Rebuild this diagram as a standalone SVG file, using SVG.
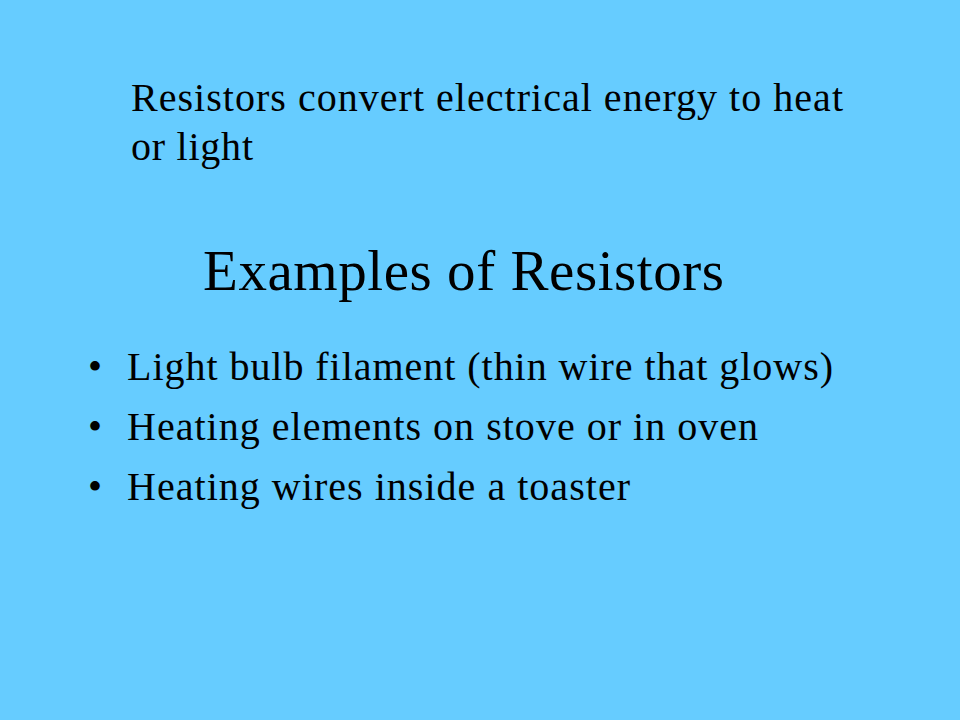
<svg xmlns="http://www.w3.org/2000/svg" width="960" height="720" viewBox="0 0 960 720">
<style>
text{font-family:"Liberation Serif","Times New Roman",serif;fill:#000}
.b{font-size:40px}
.t{font-size:57px}
</style>
<rect width="960" height="720" fill="#66CCFF"/>
<g id="intro">
<text class="b" x="131" y="111" textLength="712" lengthAdjust="spacing">Resistors convert electrical energy to heat</text>
<text class="b" x="131" y="160" textLength="122" lengthAdjust="spacing">or light</text>
</g>
<g id="title"><text class="t" x="203" y="290" textLength="521" lengthAdjust="spacing">Examples of Resistors</text></g>
<g id="bullets">
<text class="b" x="88" y="380">•</text><text class="b" x="127" y="380" textLength="706" lengthAdjust="spacing">Light bulb filament (thin wire that glows)</text>
<text class="b" x="88" y="440">•</text><text class="b" x="127" y="440" textLength="631" lengthAdjust="spacing">Heating elements on stove or in oven</text>
<text class="b" x="88" y="500">•</text><text class="b" x="127" y="500" textLength="503" lengthAdjust="spacing">Heating wires inside a toaster</text>
</g>
</svg>
